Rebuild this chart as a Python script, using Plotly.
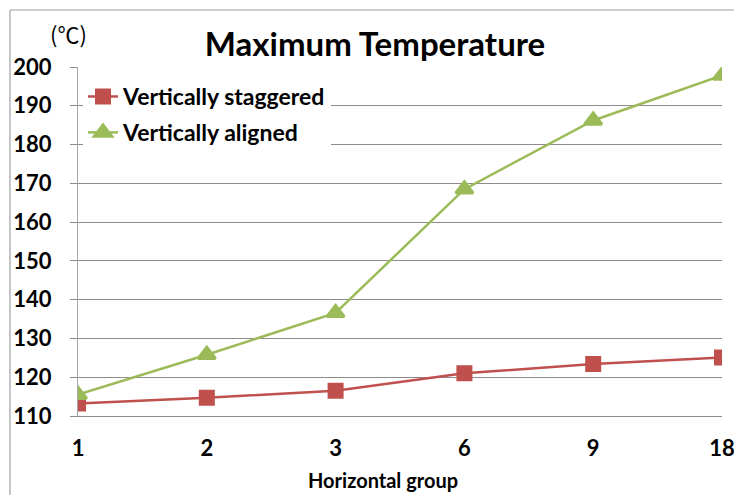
import plotly.graph_objects as go

# Horizontal group sizes (categorical axis) and maximum temperatures (°C)
groups = ["1", "2", "3", "6", "9", "18"]
staggered = [113.2, 114.7, 116.5, 121.0, 123.4, 125.1]
aligned = [115.5, 125.8, 136.6, 168.5, 186.2, 197.8]

RED = "#C0504D"
GREEN = "#9BBB59"
FONT = "Lato"

fig = go.Figure()
fig.add_trace(go.Scatter(
    x=groups, y=staggered, name="Vertically staggered", mode="lines+markers",
    legendgroup="a",
    line=dict(color=RED, width=2.5),
    marker=dict(symbol="square", size=13, color=RED,
                line=dict(color=RED, width=3)),
))
fig.add_trace(go.Scatter(
    x=groups, y=aligned, name="Vertically aligned", mode="lines+markers",
    legendgroup="b",
    line=dict(color=GREEN, width=2.5),
    marker=dict(symbol="triangle-up", size=15, color=GREEN,
                line=dict(color=GREEN, width=3)),
))

grid = "#8C8C8C"
tickfont = dict(family=FONT, size=22, color="black", weight="bold")
fig.update_layout(
    width=734, height=495,
    margin=dict(l=78, r=12, t=67, b=79, autoexpand=False),
    paper_bgcolor="white", plot_bgcolor="white",
    font=dict(family=FONT, color="black"),
    showlegend=True,
    legend=dict(
        x=(83 - 78) / 644, y=0.977, xanchor="left", yanchor="top",
        bgcolor="white", borderwidth=0,
        font=dict(family=FONT, size=23, color="black", weight="bold"),
        tracegroupgap=3, itemwidth=30,
    ),
    title=dict(
        text="<b>Maximum Temperature</b>",
        font=dict(family=FONT, size=33, color="black"),
        x=375 / 734, xref="container", xanchor="center",
        y=1 - 44 / 495, yref="container", yanchor="middle",
    ),
    xaxis=dict(
        type="category", range=[0, 5], automargin=False,
        showgrid=False, zeroline=False,
        showline=True, linecolor=grid, linewidth=1.2,
        ticks="", ticklabelstandoff=12,
        tickfont=tickfont,
    ),
    yaxis=dict(
        range=[110, 200], dtick=10, tick0=110, automargin=False,
        showgrid=True, gridcolor=grid, gridwidth=1.2,
        zeroline=False,
        showline=True, linecolor="#A6A6A6", linewidth=1.2,
        ticks="outside", ticklen=7, tickcolor=grid, tickwidth=1.2,
        ticklabelstandoff=14,
        tickfont=tickfont,
    ),
    annotations=[
        dict(text="(℃)", xref="paper", yref="paper",
             x=(68 - 78) / 644, y=1 + (67 - 33) / 349,
             xanchor="center", yanchor="middle", showarrow=False,
             font=dict(family="Noto Sans CJK JP", size=22, color="black")),
        dict(text="<b>Horizontal group</b>", xref="paper", yref="paper",
             x=(383 - 78) / 644, y=-(480 - 416) / 349,
             xanchor="center", yanchor="middle", showarrow=False,
             font=dict(family=FONT, size=20, color="black")),
    ],
    shapes=[
        # outer chart frame (left and top edges)
        dict(type="line", xref="paper", yref="paper",
             x0=(10 - 78) / 644, x1=(10 - 78) / 644,
             y0=1 + (67 - 10) / 349, y1=-(495 - 416) / 349,
             line=dict(color="#A0A0A0", width=1.2)),
        dict(type="line", xref="paper", yref="paper",
             x0=(10 - 78) / 644, x1=(734 - 78) / 644,
             y0=1 + (67 - 10) / 349, y1=1 + (67 - 10) / 349,
             line=dict(color="#A0A0A0", width=1.2)),
    ],
)

fig.write_html("out.html")
